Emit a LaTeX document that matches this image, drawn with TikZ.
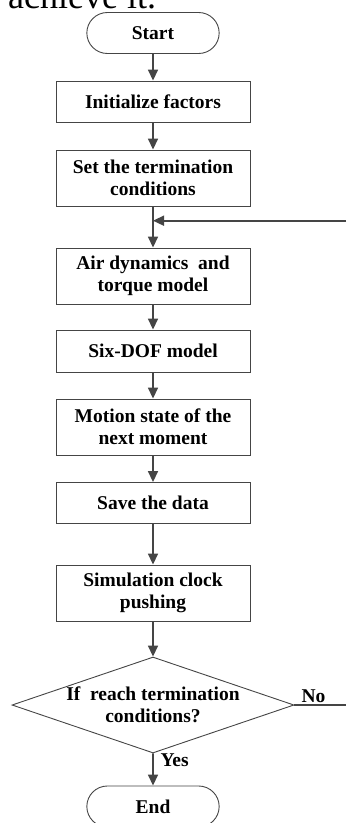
\documentclass[tikz,border=0pt]{standalone}
\usepackage{fontspec}
\setmainfont{Liberation Serif}
\usetikzlibrary{arrows.meta,shapes.geometric,shapes.misc}
\definecolor{linegray}{HTML}{454545}
\tikzset{
	stepbox/.style={draw=linegray, line width=0.9pt, minimum width=194pt, align=center, inner sep=2pt},
	terminal/.style={rounded rectangle, draw=linegray, line width=0.9pt, minimum width=139pt, minimum height=41pt},
	decision/.style={diamond, draw=linegray, line width=0.9pt, aspect=2.94, inner sep=-20pt, minimum width=282pt, minimum height=96pt, align=center},
	flow/.style={draw=linegray, line width=1.6pt, -{Triangle[length=11pt,width=10pt]}}
}

\begin{document}
\begin{tikzpicture}[x=1pt, y=-1pt, font=\fontsize{19.5}{22}\selectfont\bfseries]

			\clip (0,0) rectangle (346,823);

			% Text of the page above the chart
			\node[anchor=base west, inner sep=0pt, font=\fontsize{36}{40}\selectfont] (pagetext) at (8,8) {achieve it.};

			% Draw the steps
			\node[terminal] (start) at (153,33) {Start};
			\node[stepbox, minimum height=41pt] (init) at (153,101.5) {Initialize factors};
			\node[stepbox, minimum height=56pt] (cond) at (153,178) {Set the termination\\conditions};
			\node[stepbox, minimum height=56pt] (air) at (153,276) {Air dynamics~ and\\torque model};
			\node[stepbox, minimum height=42pt] (sixdof) at (153,351) {Six-DOF model};
			\node[stepbox, minimum height=56pt] (motion) at (153,427) {Motion state of the\\next moment};
			\node[stepbox, minimum height=41pt] (save) at (153,503) {Save the data};
			\node[stepbox, minimum height=56pt] (clock) at (153,593) {Simulation clock\\pushing};
			\node[decision] (check) at (153,705) {If~ reach termination\\conditions?};
			\node[terminal] (end) at (153,806.5) {End};

			% Draw the arrows
			\draw[flow] (start) -- (init);
			\draw[flow] (init) -- (cond);
			\draw[flow] (cond) -- (air);
			\draw[flow] (air) -- (sixdof);
			\draw[flow] (sixdof) -- (motion);
			\draw[flow] (motion) -- (save);
			\draw[flow] (save) -- (clock);
			\draw[flow] (clock) -- (check);
			\draw[flow] (check) -- (end);
			\node[anchor=base west] (yes) at (157,766) {Yes};

			% Loop back when not finished
			\coordinate (loopout) at (346,705);
			\coordinate (loopin) at (346,220.7);
			\draw[draw=linegray, line width=1.2pt] (check.east) -- (loopout);
			\node[anchor=base west] (no) at (298,702) {No};
			\draw[flow] (loopin) -- (loopin -| cond.south);

		\end{tikzpicture}
\end{document}
